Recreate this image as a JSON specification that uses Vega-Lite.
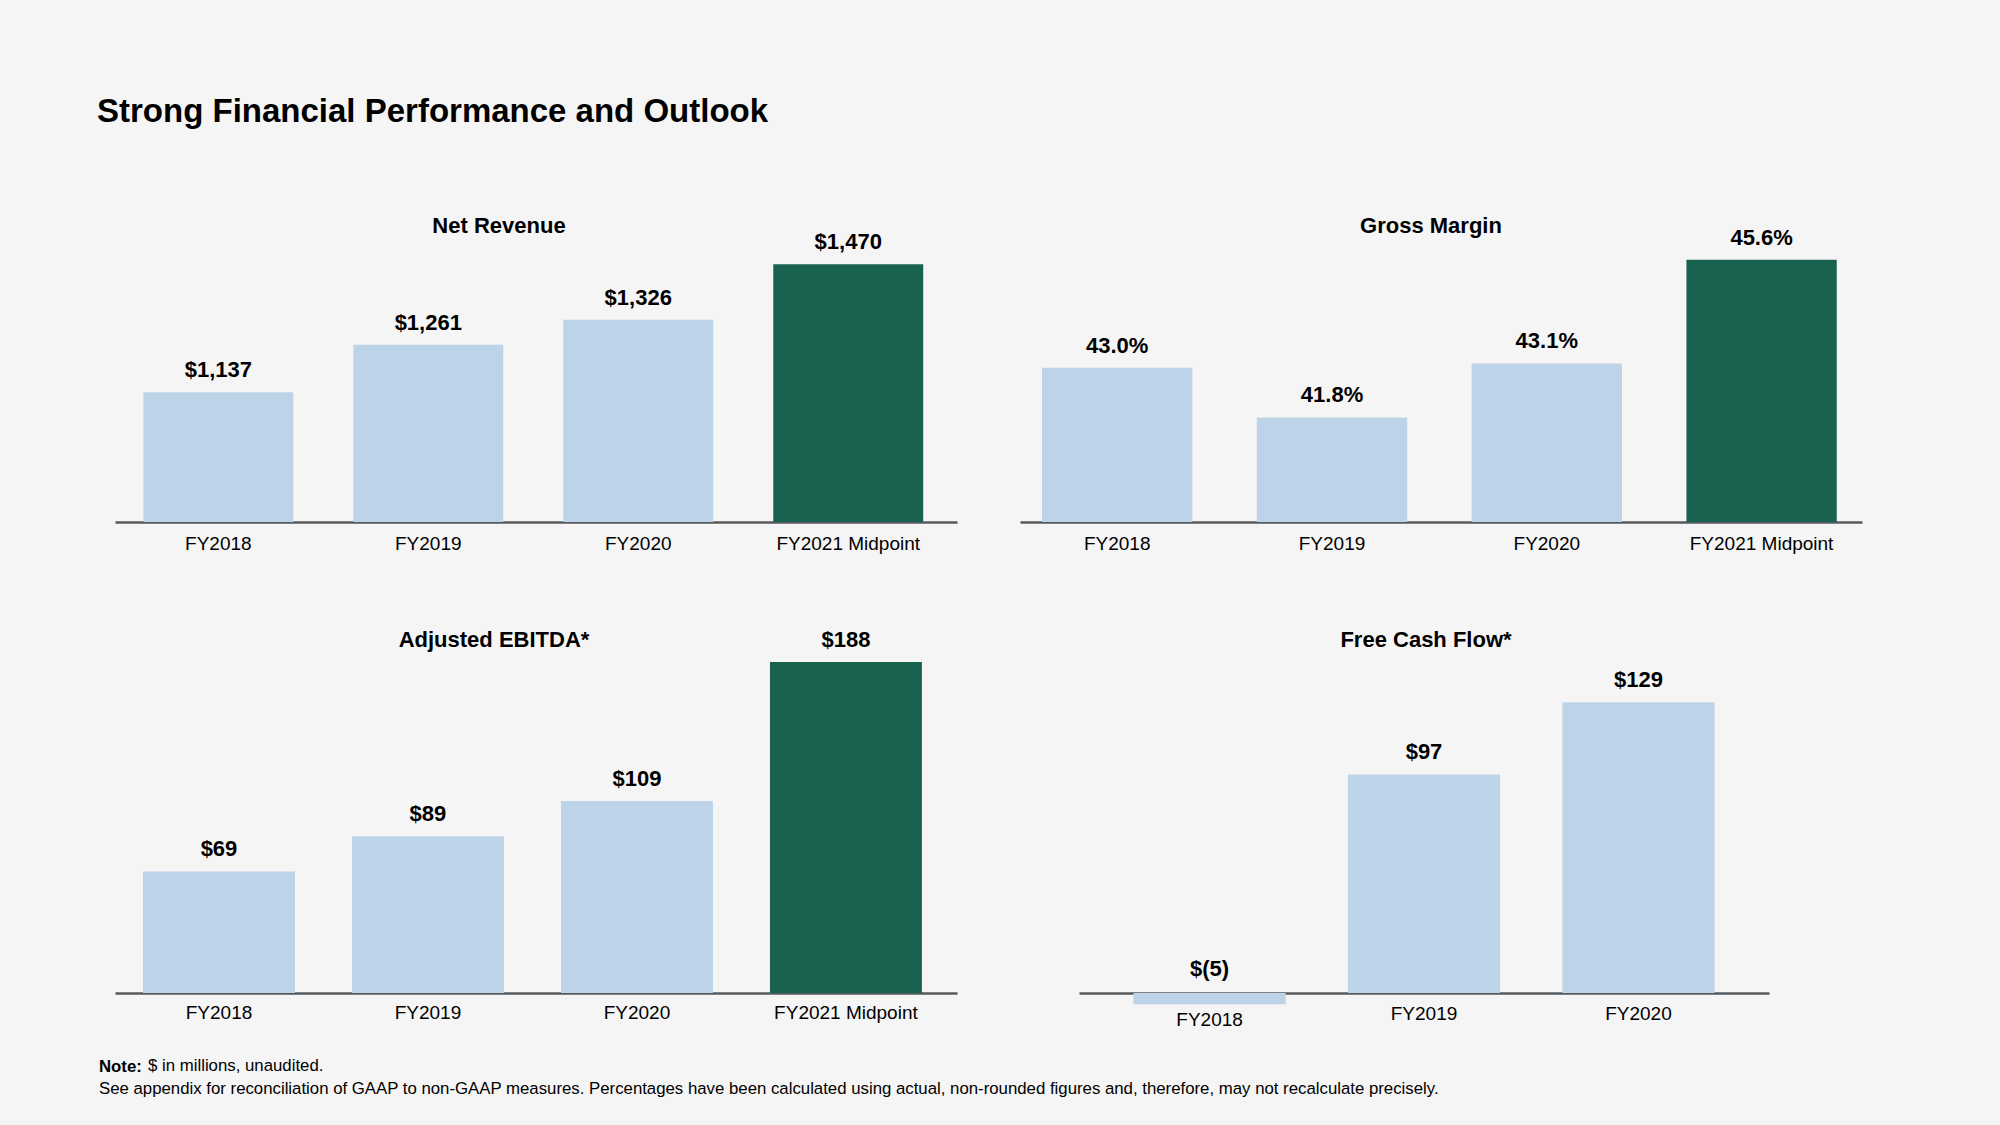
{
  "$schema": "https://vega.github.io/schema/vega-lite/v6.json",
  "background": "#F5F5F5",
  "padding": {"left": 97, "top": 96, "right": 138, "bottom": 37},
  "config": {
    "font": "Liberation Sans",
    "view": {"stroke": null},
    "axis": {
      "domainColor": "#555A5E",
      "domainWidth": 2.5,
      "ticks": false,
      "tickSize": 0,
      "labelFontSize": 19,
      "labelColor": "#000000",
      "labelAngle": 0,
      "labelPadding": 12,
      "title": null,
      "grid": false,
      "zindex": 1
    },
    "text": {"fontSize": 22, "fontWeight": "bold", "color": "#000000", "baseline": "middle"}
  },
  "title": {
    "text": "Strong Financial Performance and Outlook",
    "anchor": "start",
    "dx": -2,
    "fontSize": 33,
    "fontWeight": "bold",
    "color": "#000000",
    "offset": 71
  },
  "spacing": 57,
  "vconcat": [
    {
      "spacing": 63,
      "hconcat": [
        {
          "width": 842,
          "height": 322,
          "title": {"text": "Net Revenue", "anchor": "middle", "dx": -37, "offset": -38, "fontSize": 22, "fontWeight": "bold", "color": "#000000"},
          "data": {"values": [
            {"year": "FY2018", "value": 1137, "label": "$1,137", "type": "Actual"},
            {"year": "FY2019", "value": 1261, "label": "$1,261", "type": "Actual"},
            {"year": "FY2020", "value": 1326, "label": "$1,326", "type": "Actual"},
            {"year": "FY2021 Midpoint", "value": 1470, "label": "$1,470", "type": "Outlook"}
          ]},
          "encoding": {
            "x": {"field": "year", "type": "nominal", "sort": null, "scale": {"paddingInner": 0.286, "paddingOuter": 0.148, "align": 0.456}, "axis": {}},
            "y": {"field": "value", "type": "quantitative", "scale": {"domain": [800, 1637], "zero": false, "nice": false}, "axis": null}
          },
          "layer": [
            {"mark": {"type": "bar"}, "encoding": {"y2": {"datum": 800}, "color": {"field": "type", "type": "nominal", "scale": {"domain": ["Actual", "Outlook"], "range": ["#BDD3E8", "#1A6250"]}, "legend": null}}},
            {"mark": {"type": "text", "dy": -22}, "encoding": {"text": {"field": "label"}}}
          ]
        },
        {
          "width": 842,
          "height": 322,
          "title": {"text": "Gross Margin", "anchor": "middle", "dx": -10, "offset": -38, "fontSize": 22, "fontWeight": "bold", "color": "#000000"},
          "data": {"values": [
            {"year": "FY2018", "value": 43.0, "label": "43.0%", "type": "Actual"},
            {"year": "FY2019", "value": 41.8, "label": "41.8%", "type": "Actual"},
            {"year": "FY2020", "value": 43.1, "label": "43.1%", "type": "Actual"},
            {"year": "FY2021 Midpoint", "value": 45.6, "label": "45.6%", "type": "Outlook"}
          ]},
          "encoding": {
            "x": {"field": "year", "type": "nominal", "sort": null, "scale": {"paddingInner": 0.3, "paddingOuter": 0.11, "align": 0.466}, "axis": {}},
            "y": {"field": "value", "type": "quantitative", "scale": {"domain": [39.28, 47.04], "zero": false, "nice": false}, "axis": null}
          },
          "layer": [
            {"mark": {"type": "bar"}, "encoding": {"y2": {"datum": 39.28}, "color": {"field": "type", "type": "nominal", "scale": {"domain": ["Actual", "Outlook"], "range": ["#BDD3E8", "#1A6250"]}, "legend": null}}},
            {"mark": {"type": "text", "dy": -22}, "encoding": {"text": {"field": "label"}}}
          ]
        }
      ]
    },
    {
      "title": {"text": "$ in millions, unaudited.", "orient": "bottom", "anchor": "start", "dx": 49, "dy": -40, "offset": 0, "fontSize": 16.8, "fontWeight": "normal", "color": "#000000"},
      "vconcat": [
        {
          "spacing": 122,
          "title": {
            "text": "Note:",
            "subtitle": "See appendix for reconciliation of GAAP to non-GAAP measures. Percentages have been calculated using actual, non-rounded figures and, therefore, may not recalculate precisely.",
            "orient": "bottom",
            "anchor": "start",
            "dx": -16,
            "offset": 29.5,
            "fontSize": 16.8,
            "fontWeight": "bold",
            "color": "#000000",
            "subtitleFontSize": 16.8,
            "subtitleFontWeight": "normal",
            "subtitleColor": "#000000",
            "subtitlePadding": 6
          },
          "hconcat": [
            {
              "width": 842,
              "height": 383,
              "title": {"text": "Adjusted EBITDA*", "anchor": "middle", "dx": -42, "offset": -42, "fontSize": 22, "fontWeight": "bold", "color": "#000000"},
              "data": {"values": [
                {"year": "FY2018", "value": 69, "label": "$69", "type": "Actual"},
                {"year": "FY2019", "value": 89, "label": "$89", "type": "Actual"},
                {"year": "FY2020", "value": 109, "label": "$109", "type": "Actual"},
                {"year": "FY2021 Midpoint", "value": 188, "label": "$188", "type": "Outlook"}
              ]},
              "encoding": {
                "x": {"field": "year", "type": "nominal", "sort": null, "scale": {"paddingInner": 0.273, "paddingOuter": 0.151, "align": 0.444}, "axis": {"labelPadding": 10}},
                "y": {"field": "value", "type": "quantitative", "scale": {"domain": [0, 217.5], "nice": false}, "axis": null}
              },
              "layer": [
                {"mark": {"type": "bar"}, "encoding": {"color": {"field": "type", "type": "nominal", "scale": {"domain": ["Actual", "Outlook"], "range": ["#BDD3E8", "#1A6250"]}, "legend": null}}},
                {"mark": {"type": "text", "dy": -22}, "encoding": {"text": {"field": "label"}}}
              ]
            },
            {
              "width": 690,
              "height": 383,
              "title": {"text": "Free Cash Flow*", "anchor": "middle", "dx": 2, "offset": -42, "fontSize": 22, "fontWeight": "bold", "color": "#000000"},
              "data": {"values": [
                {"year": "FY2018", "value": -5, "label": "$(5)", "type": "Actual"},
                {"year": "FY2019", "value": 97, "label": "$97", "type": "Actual"},
                {"year": "FY2020", "value": 129, "label": "$129", "type": "Actual"}
              ]},
              "encoding": {
                "x": {"field": "year", "type": "nominal", "sort": null, "scale": {"paddingInner": 0.29, "paddingOuter": 0.254}, "axis": {"labelPadding": 26, "labelBaseline": {"condition": {"test": "datum.value === 'FY2018'", "value": "middle"}, "value": "alphabetic"}}}
              },
              "layer": [
                {"mark": {"type": "bar"}, "encoding": {
                  "y": {"field": "value", "type": "quantitative", "scale": {"domain": [0, 170], "nice": false}, "axis": null},
                  "color": {"field": "type", "type": "nominal", "scale": {"domain": ["Actual", "Outlook"], "range": ["#BDD3E8", "#1A6250"]}, "legend": null}}},
                {"transform": [{"filter": "datum.value >= 0"}], "mark": {"type": "text", "dy": -22}, "encoding": {"y": {"field": "value", "type": "quantitative"}, "text": {"field": "label"}}},
                {"transform": [{"filter": "datum.value < 0"}], "mark": {"type": "text", "dy": -24}, "encoding": {"y": {"datum": 0, "type": "quantitative"}, "text": {"field": "label"}}}
              ]
            }
          ]
        }
      ]
    }
  ]
}
